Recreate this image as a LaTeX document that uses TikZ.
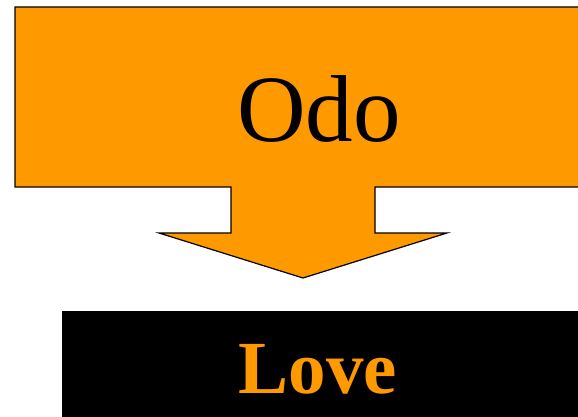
\documentclass[tikz,border=0pt]{standalone}
\usepackage{fontspec}
\setmainfont{Liberation Serif}
\usepackage{tikz}
\usetikzlibrary{positioning}
\definecolor{odoorange}{HTML}{FF9900}

\begin{document}
\begin{tikzpicture}[
    x=1pt, y=-1pt,
    callout/.style={fill=odoorange, draw=black, line width=1.2pt, line join=miter},
    banner/.style={rectangle, fill=black, draw=none, anchor=north west, inner sep=0pt}
]
\useasboundingbox (0,0) rectangle (578,417);
\clip (0,0) rectangle (578,417);

% Callout box with its arrow, one outline
\draw[callout] (15,7) -- (600,7) -- (600,187) -- (375,187) -- (375,233)
    -- (447,233) -- (303,278) -- (159,233) -- (231,233) -- (231,187)
    -- (15,187) -- cycle;
\node[anchor=base, inner sep=0pt, font=\fontsize{95}{95}\selectfont] (odo) at (319,142) {Odo};

% Black banner below
\node[banner, minimum width=560pt, minimum height=130pt] (banner) at (62,311) {};
\node[anchor=base, inner sep=0pt, text=odoorange, font=\bfseries\fontsize{75}{75}\selectfont] (love) at (318,393) {Love};

\end{tikzpicture}
\end{document}
